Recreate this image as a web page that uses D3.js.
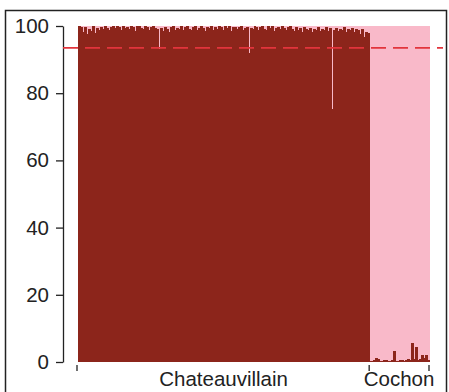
<!DOCTYPE html>
<html>
<head>
<meta charset="utf-8">
<script src="https://cdn.jsdelivr.net/npm/d3@7"></script>
<style>
html,body{margin:0;padding:0;background:#fff;}
svg{display:block;}
</style>
</head>
<body>
<svg id="chart" width="449" height="392"></svg>
<script>
const populations = ["Chateauvillain", "Cochon"];
const chateauvillain = [
 100, 99.6, 98.2, 99.8, 97.6, 99.2, 98.5, 100, 97.9, 99.4,
 98.8, 99.7, 99.1, 100, 99.5, 98.9, 99.8, 100, 99.3, 99.9,
 99.6, 98.7, 100, 99.4, 99.8, 99.1, 100, 99.7, 98.6, 99.9,
 100, 99.5, 99.2, 100, 99.8, 98.9, 99.6, 100, 99.3, 99.0,
 93.2, 99.4, 98.4, 99.7, 99.0, 98.2, 99.8, 100, 98.9, 99.5,
 99.1, 99.9, 98.7, 99.6, 100, 99.2, 98.8, 99.7, 99.9, 98.9,
 99.5, 100, 99.3, 98.6, 99.8, 99.4, 100, 98.9, 99.7, 99.2,
 100, 99.6, 98.8, 99.9, 99.3, 100, 98.5, 99.7, 99.8, 99.1,
 99.6, 100, 98.9, 99.4, 99.8, 92.0, 99.5, 99.1, 100, 99.7,
 98.8, 99.6, 100, 99.2, 98.7, 99.9, 99.4, 100, 98.6, 99.5,
 99.8, 99.0, 100, 99.3, 98.9, 99.7, 100, 99.1, 98.4, 99.6,
 98.9, 99.4, 98.2, 99.8, 99.0, 98.7, 99.5, 98.3, 99.2, 98.8,
 99.6, 98.5, 99.1, 98.9, 99.7, 98.4, 99.3, 75.3, 98.9, 99.5,
 98.6, 99.2, 98.8, 99.7, 98.3, 99.0, 98.7, 99.4, 98.1, 99.2,
 98.8, 97.5, 99.0, 96.8, 98.2, 97.9
];
const cochon = [
 0.4, 0.3, 0.5, 1.2, 0.8, 0.3, 0.4, 0.6, 0.5, 0.3,
 0.4, 0.5, 3.3, 0.4, 0.3, 0.6, 0.5, 0.4, 0.7, 0.8,
 0.6, 5.6, 0.9, 4.5, 0.5, 0.8, 2.0, 1.2, 2.2, 0.6
];
const yTicks = [0, 20, 40, 60, 80, 100];
const threshold = 93.5;

const colors = {cluster1: "#8c251b", cluster2: "#f9b9c9", threshold: "#e2343c"};

const groups = [chateauvillain, cochon];
const individuals = [];
groups.forEach((vals, g) => vals.forEach((v, i) => individuals.push({id: g + "_" + i, pop: populations[g], q: v})));

const svg = d3.select("#chart");
const font = "Liberation Sans, Arial, sans-serif";

// frame
svg.append("rect").attr("x", 5.5).attr("y", 10.5).attr("width", 441).attr("height", 390)
  .attr("fill", "none").attr("stroke", "#222").attr("stroke-width", 1.5);

const x = d3.scaleBand().domain(individuals.map(d => d.id)).range([78, 429]).padding(0);
const y = d3.scaleLinear().domain([0, 100]).range([362, 26]);
const bw = x.bandwidth();

const bars = svg.append("g").attr("shape-rendering", "crispEdges");
bars.selectAll("rect.c2").data(individuals).join("rect").attr("class", "c2")
  .attr("x", d => x(d.id)).attr("width", bw + 1)
  .attr("y", y(100)).attr("height", d => y(d.q) - y(100))
  .attr("fill", colors.cluster2);
bars.selectAll("rect.c1").data(individuals).join("rect").attr("class", "c1")
  .attr("x", d => x(d.id)).attr("width", bw + 1)
  .attr("y", d => y(d.q)).attr("height", d => y(0) - y(d.q))
  .attr("fill", colors.cluster1);

// y axis
const yAxis = svg.append("g").attr("transform", "translate(63,0)")
  .call(d3.axisLeft(y).tickValues(yTicks).tickSize(7).tickSizeOuter(0).tickPadding(7));
yAxis.select(".domain").attr("stroke", "#222").attr("stroke-width", 1.3);
yAxis.selectAll(".tick line").attr("stroke", "#222").attr("stroke-width", 1.3);
yAxis.selectAll(".tick text").attr("font-family", font)
  .attr("font-size", 20.5).attr("fill", "#222");

// threshold dashed line
svg.append("line").attr("x1", 63).attr("x2", 443).attr("y1", y(threshold)).attr("y2", y(threshold))
  .attr("stroke", colors.threshold).attr("stroke-width", 1.8).attr("stroke-dasharray", "15,7");

// x ticks at population boundaries
const starts = [];
let idx = 0;
groups.forEach((vals, g) => { starts.push({pop: populations[g], x0: x(individuals[idx].id), x1: x(individuals[idx + vals.length - 1].id) + bw}); idx += vals.length; });
const tickXs = [starts[0].x0 - 1, starts[1].x0, starts[1].x1];
svg.append("g").selectAll("line").data(tickXs).join("line")
  .attr("x1", d => d).attr("x2", d => d).attr("y1", 365).attr("y2", 371)
  .attr("stroke", "#222").attr("stroke-width", 1.3);

svg.append("g").selectAll("text").data(starts).join("text")
  .attr("x", d => (d.x0 + d.x1) / 2).attr("y", 386)
  .attr("text-anchor", "middle")
  .attr("font-family", font).attr("font-size", 20.5).attr("fill", "#222")
  .text(d => d.pop);
</script>
</body>
</html>
